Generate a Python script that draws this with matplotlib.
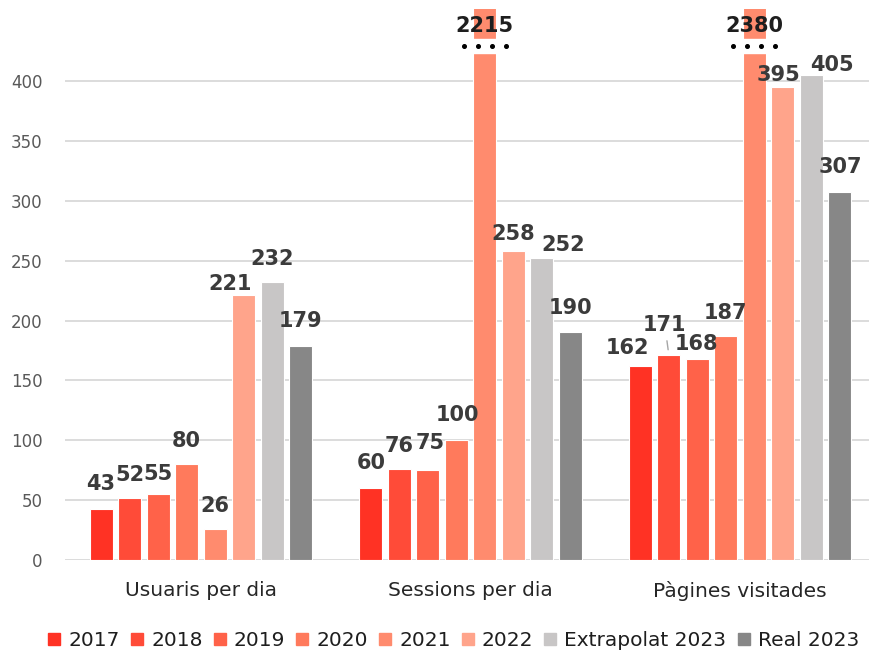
import numpy as np
import matplotlib
matplotlib.use("Agg")
import matplotlib.pyplot as plt
from matplotlib.patches import Rectangle, Patch

plt.rcParams['font.family'] = ['DejaVu Sans']

categories = ["Usuaris per dia", "Sessions per dia", "Pàgines visitades"]
series = ["2017", "2018", "2019", "2020", "2021", "2022", "Extrapolat 2023", "Real 2023"]
usuaris = [43, 52, 55, 80, 26, 221, 232, 179]
sessions = [60, 76, 75, 100, 2215, 258, 252, 190]
pagines = [162, 171, 168, 187, 2380, 395, 405, 307]
yticks = [0, 50, 100, 150, 200, 250, 300, 350, 400]

colors = ["#ff3224", "#ff4b38", "#ff6249", "#ff7a5c", "#ff8b6e", "#ffa48b",
          "#c8c6c6", "#878787"]

# label placement (pixels, text centre relative to bar top); default is straight above
label_shift = {
    (0, 0): (-1, 27), (0, 2): (0, 22), (0, 5): (-14, 13), (0, 7): (0, 27),
    (1, 0): (0, 27), (1, 2): (2, 29), (1, 3): (1, 27), (1, 5): (0, 19),
    (1, 6): (21, 15), (1, 7): (0, 26),
    (2, 0): (-13, 20), (2, 1): (-4, 32), (2, 2): (-1, 17),
    (2, 5): (-4, 14), (2, 6): (21, 12), (2, 7): (0, 27),
}

values = np.array([usuaris, sessions, pagines])
n = len(series)
pitch = 0.1057
width = 0.0853
ytop = 460
gap_lo, gap_hi = 423, 435

fig = plt.figure(figsize=(8.69, 6.55), dpi=100)
ax = fig.add_axes([0.0748, 0.145, 0.9252, 0.841])
ax.set_xlim(-0.504, 2.478)
ax.set_ylim(0, ytop)

xg = np.arange(len(categories))
for i in range(n):
    x = xg + (i - (n - 1) / 2) * pitch
    ax.bar(x, values[:, i], width, color=colors[i], edgecolor="white",
           linewidth=0.8, zorder=2, label=series[i])
    for g in range(len(categories)):
        v = values[g, i]
        if v > ytop:
            # broken bar: white gap with a row of dots, value printed at the top
            ax.add_patch(Rectangle((x[g] - width * 0.6, gap_lo), width * 1.2,
                                   gap_hi - gap_lo, color="white", zorder=3))
            dx = 0.052
            ax.plot(x[g] + dx * np.array([-1.5, -0.5, 0.5, 1.5]), [429] * 4,
                    "o", color="black", ms=2.6, zorder=4)
            ax.annotate(str(v), (x[g], 448), xytext=(0, -8),
                        textcoords="offset pixels", ha="center", va="baseline",
                        fontsize=15, fontweight="bold", color="#1e1e1e", zorder=5)
            continue
        sx, sy = label_shift.get((g, i), (0, 25))
        arrow = None
        if (g, i) == (2, 1):
            arrow = dict(arrowstyle="-", color="#a6a6a6", lw=1,
                         shrinkA=2, shrinkB=4)
        ax.annotate(str(v), (x[g], v), xytext=(sx, sy - 8),
                    textcoords="offset pixels", ha="center", va="baseline",
                    fontsize=15, fontweight="bold", color="#3b3b3b", zorder=5,
                    arrowprops=arrow)

ax.set_yticks(yticks)
ax.set_xticks(xg)
ax.set_xticklabels(categories, fontsize=14.5, color="#262626")
ax.tick_params(axis="y", length=0, pad=16, labelsize=12, labelcolor="#595959")
ax.tick_params(axis="x", length=0, pad=15)
ax.grid(axis="y", color="#d9d9d9", linewidth=1.3, zorder=0)
ax.set_axisbelow(True)
for s in ax.spines.values():
    s.set_visible(False)

handles = [Patch(color=c) for c in colors]
fig.legend(handles, series, loc="center", bbox_to_anchor=(0.522, 0.022),
           ncol=n, frameon=False, fontsize=14.5, handlelength=0.6,
           handleheight=0.6, handletextpad=0.4, columnspacing=0.55,
           labelcolor="#1e1e1e", borderaxespad=0)

fig.savefig("out.png", dpi=100)
